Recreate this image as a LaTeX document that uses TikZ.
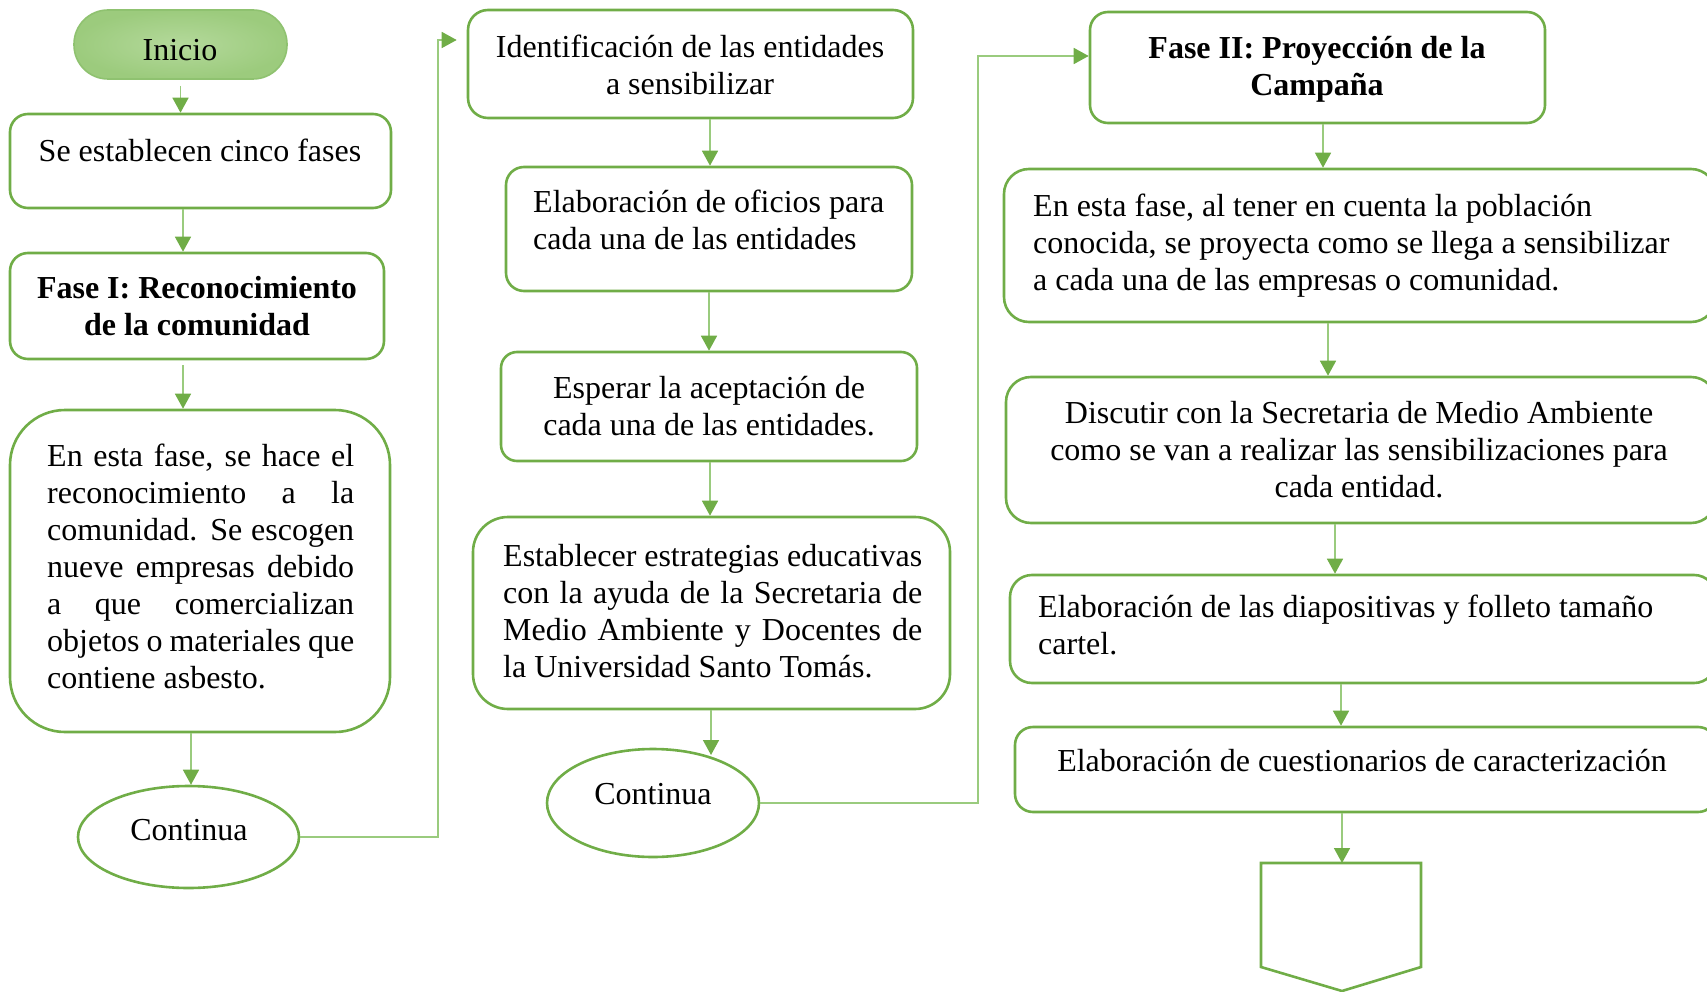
\documentclass[tikz,border=0pt]{standalone}
\usepackage{fontspec}
\setmainfont{Liberation Serif}
\usetikzlibrary{shapes.geometric,arrows.meta}
\definecolor{gborder}{HTML}{70AD47}
\definecolor{gline}{HTML}{9ACB7E}
\definecolor{ghead}{HTML}{70AD47}
\definecolor{gfill}{HTML}{A9D18E}
\definecolor{gfillin}{HTML}{B4D99B}
\definecolor{gfillout}{HTML}{9CCB7D}
\definecolor{gfilldraw}{HTML}{8FC270}
\begin{document}
\begin{tikzpicture}[x=1pt,y=-1pt,
  box/.style={draw=gborder, line width=2.6pt, rectangle, inner sep=0pt},
  oval/.style={draw=gborder, line width=2.6pt, ellipse, inner sep=0pt},
  txt/.style={inner sep=0pt, font=\fontsize{32}{37}\selectfont},
  btxt/.style={inner sep=0pt, font=\fontsize{32}{37}\selectfont\bfseries},
  arr/.style={draw=gline, line width=1.6pt, -{Triangle[length=15pt,width=16pt,color=ghead]}},
]
\useasboundingbox (0,0) rectangle (1707,992);
\clip (0,0) rectangle (1707,992);

% ---------- left column ----------
\node[box, inner color=gfillin, outer color=gfillout, draw=gfilldraw, line width=1.6pt, rounded corners=34pt, minimum width=213pt, minimum height=69pt] (inicio) at (180.5,44.5) {};
\node[txt] at (180,50) {Inicio};

\node[box, rounded corners=18pt, minimum width=381pt, minimum height=94pt] (s1) at (200.5,161) {};
\node[txt] at (200,150) {Se establecen cinco fases};

\node[box, rounded corners=18pt, minimum width=374pt, minimum height=106pt] (f1) at (197,306) {};
\node[btxt, align=center] at (197,306) {Fase I: Reconocimiento\\de la comunidad};

\node[box, rounded corners=55pt, minimum width=380pt, minimum height=322pt] (d1) at (200,571) {};
\node[txt, align=left, anchor=west] at (47,566) {%
\makebox[307pt][s]{En esta fase, se hace el}\\
\makebox[307pt][s]{reconocimiento a la}\\
\makebox[307pt][s]{comunidad. Se escogen}\\
\makebox[307pt][s]{nueve empresas debido}\\
\makebox[307pt][s]{a que comercializan}\\
\makebox[307pt][s]{objetos o materiales que}\\
contiene asbesto.};

\node[oval, minimum width=221pt, minimum height=102pt] (c1) at (188.5,837) {};
\node[txt] at (189,830) {Continua};

% ---------- middle column ----------
\node[box, rounded corners=20pt, minimum width=445pt, minimum height=108pt] (id) at (690.5,64) {};
\node[txt, align=center] at (690,64.5) {Identificación de las entidades\\a sensibilizar};

\node[box, rounded corners=18pt, minimum width=406pt, minimum height=124pt] (of) at (709,229) {};
\node[txt, align=left, anchor=west] at (533,220) {Elaboración de oficios para\\cada una de las entidades};

\node[box, rounded corners=16pt, minimum width=416pt, minimum height=109pt] (es) at (709,406.5) {};
\node[txt, align=center] at (709,406.5) {Esperar la aceptación de\\cada una de las entidades.};

\node[box, rounded corners=35pt, minimum width=477pt, minimum height=192pt] (eb) at (711.5,613) {};
\node[txt, align=left, anchor=west] at (503,611) {%
\makebox[419pt][s]{Establecer estrategias educativas}\\
\makebox[419pt][s]{con la ayuda de la Secretaria de}\\
\makebox[419pt][s]{Medio Ambiente y Docentes de}\\
la Universidad Santo Tomás.};

\node[oval, minimum width=212pt, minimum height=108pt] (c2) at (653,803) {};
\node[txt] at (653,794) {Continua};

% ---------- right column ----------
\node[box, rounded corners=18pt, minimum width=455pt, minimum height=111pt] (f2) at (1317.5,67.5) {};
\node[btxt, align=center] at (1317,69.5) {Fase II: Proyección de la\\Campaña};

\node[box, rounded corners=25pt, minimum width=712pt, minimum height=153pt] (ba) at (1360,245.5) {};
\node[txt, align=left, anchor=west] at (1033,246) {En esta fase, al tener en cuenta la población\\conocida, se proyecta como se llega a sensibilizar\\a cada una de las empresas o comunidad.};

\node[box, rounded corners=25pt, minimum width=710pt, minimum height=146pt] (bb) at (1361,450) {};
\node[txt, align=center] at (1359,450) {Discutir con la Secretaria de Medio Ambiente\\como se van a realizar las sensibilizaciones para\\cada entidad.};

\node[box, rounded corners=22pt, minimum width=706pt, minimum height=108pt] (bc) at (1363,629) {};
\node[txt, align=left, anchor=west] at (1038,624.5) {Elaboración de las diapositivas y folleto tamaño\\cartel.};

\node[box, rounded corners=18pt, minimum width=701pt, minimum height=85pt] (bd) at (1365.5,769.5) {};
\node[txt] at (1362,761) {Elaboración de cuestionarios de caracterización};

% off-page connector
\draw[draw=gborder, line width=2.6pt, line join=miter] (1261,863) -- (1421,863) -- (1421,967) -- (1342,991) -- (1261,967) -- cycle;
\coordinate (pent) at (1342,863);

% ---------- connectors ----------
\coordinate (k1) at (438,40);
\coordinate (k2) at (978,56);
\coordinate (c2in) at (711,755);

\draw[arr, shorten <=6pt] (inicio.south) -- (inicio.south |- s1.north);
\draw[arr] (s1.south -| 183,0) -- (f1.north -| 183,0);
\draw[arr, shorten <=5pt] (f1.south -| 183,0) -- (d1.north -| 183,0);
\draw[arr] (d1.south -| 191,0) -- (c1.north -| 191,0);
\draw[arr, shorten >=10pt] (c1.east) -| (k1) -- (k1 -| id.west);

\draw[arr] (id.south -| 710,0) -- (of.north -| 710,0);
\draw[arr] (of.south -| 709,0) -- (es.north -| 709,0);
\draw[arr] (es.south -| 710,0) -- (eb.north -| 710,0);
\draw[arr] (eb.south -| 711,0) -- (c2in);
\draw[arr] (c2.east) -| (k2) -- (k2 -| f2.west);

\draw[arr] (f2.south -| 1323,0) -- (ba.north -| 1323,0);
\draw[arr] (ba.south -| 1328,0) -- (bb.north -| 1328,0);
\draw[arr] (bb.south -| 1335,0) -- (bc.north -| 1335,0);
\draw[arr] (bc.south -| 1341,0) -- (bd.north -| 1341,0);
\draw[arr] (bd.south -| 1342,0) -- (pent);
\end{tikzpicture}
\end{document}
